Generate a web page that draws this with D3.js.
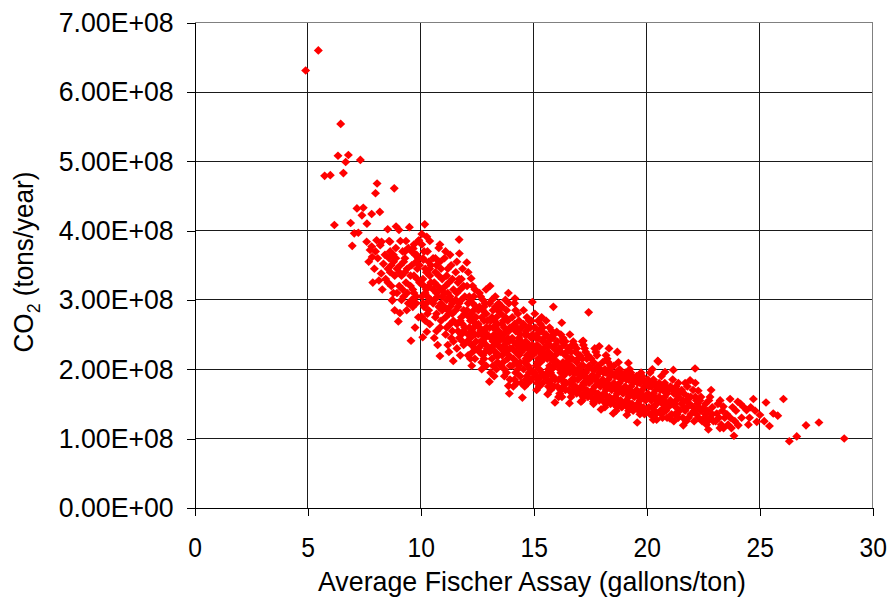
<!DOCTYPE html>
<html>
<head>
<meta charset="utf-8">
<script src="https://cdn.jsdelivr.net/npm/d3@7"></script>
<style>
  html, body { margin: 0; padding: 0; background: #fff; }
  svg { display: block; }
  text { font-family: "Liberation Sans", Arial, sans-serif; fill: #000; }
</style>
</head>
<body>
<svg id="chart" width="888" height="598"></svg>
<script>
// ---------------- DATA ----------------
const xTicks = [0, 5, 10, 15, 20, 25, 30];
const xTickLabels = ["0", "5", "10", "15", "20", "25", "30"];
const yTicks = [0, 1e8, 2e8, 3e8, 4e8, 5e8, 6e8, 7e8];
const yTickLabels = ["0.00E+00", "1.00E+08", "2.00E+08", "3.00E+08", "4.00E+08", "5.00E+08", "6.00E+08", "7.00E+08"];
const xTitle = "Average Fischer Assay (gallons/ton)";
const yUnit = 1e8; // point y values below are in units of 1E+08 tons/year

// [average Fischer assay (gal/ton), CO2 (1E+08 tons/year)]
const ptsOutliers = [[4.91,6.31],[5.47,6.60],[6.46,5.54],[6.34,5.08],[6.80,5.09],[6.68,4.99],[7.33,5.02],[5.75,4.79],[6.00,4.80],[6.58,4.83],[8.07,4.68],[8.00,4.54],[8.83,4.61],[6.18,4.08],[7.18,4.32],[7.46,4.33],[7.40,4.22],[7.83,4.24],[8.19,4.27],[6.90,4.11],[7.62,4.10],[7.06,3.96],[7.24,3.97],[8.54,4.02],[8.91,4.06],[9.04,4.01],[9.50,4.05],[10.18,4.09],[6.97,3.78],[9.92,3.86],[10.27,3.91]];

const pts07to10 = [[7.61,3.84],[7.83,3.77],[8.05,3.86],[8.27,3.84],[8.64,3.84],[7.76,3.72],[8.21,3.79],[8.42,3.65],[8.79,3.65],[9.31,3.70],[9.67,3.74],[9.82,3.65],
[7.88,3.25],[7.7,3.55],[7.95,3.45],[8.1,3.6],[8.25,3.38],[8.35,3.52],[8.45,3.3],[8.0,3.7],[8.55,3.45],[7.85,3.62],[8.3,3.15],[8.15,3.28],
[8.6,3.6],[8.65,3.4],[8.7,3.2],[8.75,3.0],[8.8,3.55],[8.85,3.35],[8.9,3.75],[8.95,3.1],[8.79,3.10],[8.74,2.99],[8.6,3.85],[8.7,3.5],[8.85,2.85],[8.95,3.45],[8.55,3.25],[8.9,3.6],[8.65,3.7],
[9.08,2.81],[9.01,2.69],[9.38,2.85],[9.05,3.2],[9.1,3.5],[9.15,3.35],[9.2,3.7],[9.25,3.05],[9.3,3.6],[9.35,3.25],[9.4,3.45],[9.45,2.95],[9.1,3.85],[9.2,3.15],[9.3,3.4],[9.45,3.75],[9.15,3.0],[9.25,3.55],[9.4,3.1],[9.05,3.4],[9.35,3.85],
[9.57,2.41],[9.55,3.2],[9.6,3.5],[9.65,2.9],[9.7,3.35],[9.75,3.65],[9.8,3.05],[9.85,3.45],[9.9,2.75],[9.95,3.25],[9.6,3.0],[9.7,3.8],[9.8,3.55],[9.9,3.6],[9.55,3.35],[9.65,3.15],[9.75,2.6],[9.85,3.3],[9.95,3.5],[9.6,3.7],[9.8,2.95],[9.9,3.85],[9.7,3.1]];

const pts10to12 = [[10.09,2.46],[10.27,2.54],[10.12,3.58],[10.04,2.76],[10.05,3.05],[10.1,3.3],[10.15,2.9],[10.2,3.45],[10.25,3.15],[10.3,3.7],[10.35,2.85],[10.4,3.35],[10.45,3.0],[10.05,3.8],[10.1,3.6],[10.15,3.2],[10.2,2.7],[10.25,3.4],[10.3,3.05],[10.35,3.55],[10.4,2.65],[10.45,3.25],[10.1,2.95],[10.2,3.1],[10.3,2.8],[10.4,3.45],[10.15,3.7],[10.35,3.2],[10.45,3.5],[10.25,2.95],[10.05,3.95],[10.4,3.85],
[10.85,2.19],[10.55,2.95],[10.6,3.25],[10.65,2.75],[10.7,3.5],[10.75,3.05],[10.8,3.35],[10.85,2.6],[10.9,3.15],[10.95,2.85],[10.55,3.6],[10.6,3.0],[10.65,3.4],[10.7,2.55],[10.75,3.2],[10.8,2.9],[10.85,3.55],[10.9,2.7],[10.95,3.3],[10.6,2.45],[10.7,3.1],[10.8,3.75],[10.9,2.95],[10.55,3.15],[10.65,3.6],[10.75,2.35],[10.85,3.8],[10.95,3.05],[10.7,2.8],[10.9,3.45],
[11.44,2.12],[11.05,2.9],[11.1,3.2],[11.15,2.6],[11.2,3.45],[11.25,2.8],[11.3,3.05],[11.35,2.45],[11.4,3.3],[11.45,2.7],[11.05,3.6],[11.1,2.5],[11.15,3.0],[11.2,2.35],[11.25,3.25],[11.3,2.65],[11.35,3.5],[11.4,2.95],[11.45,3.15],[11.1,2.75],[11.2,3.1],[11.3,2.9],[11.4,2.55],[11.15,3.35],[11.25,2.25],[11.35,3.0],[11.45,2.4],[11.05,3.1],[11.3,3.65],[11.2,2.85],[11.4,2.8],[11.1,3.7],
[11.71,3.67],[11.7,3.87],[11.55,2.85],[11.6,3.1],[11.65,2.55],[11.7,3.3],[11.75,2.7],[11.8,3.0],[11.85,2.4],[11.9,3.2],[11.95,2.6],[11.55,3.4],[11.6,2.3],[11.65,2.9],[11.7,2.45],[11.75,3.15],[11.8,2.75],[11.85,3.45],[11.9,2.85],[11.95,3.05],[11.6,2.65],[11.7,2.95],[11.8,2.5],[11.9,2.35],[11.55,3.0],[11.65,3.25],[11.75,2.2],[11.85,2.65],[11.95,2.8],[11.6,3.55],[11.8,3.3],[11.9,2.55]];

const pts12to14 = [[12.04,3.54],[12.23,3.31],[12.26,2.05],[12.05,2.85],[12.1,2.5],[12.15,3.05],[12.2,2.7],[12.25,2.35],[12.3,2.95],[12.35,2.6],[12.4,3.15],[12.45,2.4],[12.05,3.2],[12.1,2.2],[12.15,2.75],[12.2,3.0],[12.25,2.55],[12.3,2.25],[12.35,2.85],[12.4,2.5],[12.45,2.9],[12.1,2.95],[12.2,2.45],[12.3,2.7],[12.4,2.3],[12.15,2.6],[12.35,3.05],[12.45,2.65],[12.05,2.4],[12.25,2.8],[12.4,2.15],[12.1,3.4],[12.3,3.2],[12.2,2.15],[12.45,2.75],
[12.70,2.00],[12.89,3.15],[12.55,2.65],[12.6,2.9],[12.65,2.4],[12.7,2.75],[12.75,2.2],[12.8,2.55],[12.85,2.95],[12.9,2.35],[12.95,2.7],[12.55,2.3],[12.6,2.6],[12.65,3.05],[12.7,2.5],[12.75,2.85],[12.8,2.15],[12.85,2.45],[12.9,2.8],[12.95,2.5],[12.6,2.25],[12.7,2.35],[12.8,2.7],[12.9,2.6],[12.55,2.85],[12.65,2.55],[12.75,3.0],[12.85,2.25],[12.95,2.3],[12.6,3.1],[12.8,2.9],[12.7,2.1],[12.9,2.05],[12.55,2.5],[12.75,2.4],
[13.04,1.82],[13.07,3.20],[13.05,2.6],[13.1,2.3],[13.15,2.75],[13.2,2.05],[13.25,2.5],[13.3,2.9],[13.35,2.2],[13.4,2.65],[13.45,2.4],[13.05,2.95],[13.1,2.45],[13.15,2.15],[13.2,2.85],[13.25,2.35],[13.3,2.6],[13.35,2.0],[13.4,2.85],[13.45,2.55],[13.1,2.7],[13.2,2.4],[13.3,2.25],[13.4,2.1],[13.15,3.0],[13.25,2.7],[13.35,2.45],[13.45,2.2],[13.05,2.25],[13.2,2.6],[13.3,3.05],[13.4,2.35],[13.1,1.95],[13.35,2.75],[13.45,2.95],[13.25,1.9],
[13.88,3.10],[13.88,1.76],[13.92,1.65],[13.55,2.5],[13.6,2.2],[13.65,2.7],[13.7,2.0],[13.75,2.4],[13.8,2.85],[13.85,2.15],[13.9,2.55],[13.95,2.3],[13.55,2.8],[13.6,2.45],[13.65,2.1],[13.7,2.6],[13.75,2.25],[13.8,1.95],[13.85,2.7],[13.9,2.4],[13.95,2.05],[13.6,2.9],[13.7,2.35],[13.8,2.55],[13.9,2.2],[13.55,2.05],[13.65,2.5],[13.75,2.75],[13.85,2.45],[13.95,2.6],[13.6,2.65],[13.7,1.9],[13.8,2.3],[13.9,2.95],[13.55,2.3],[13.75,3.0],[13.95,1.85]];

const pts14to16 = [[14.17,3.02],[14.50,1.59],[14.05,2.45],[14.1,2.15],[14.15,2.65],[14.2,1.95],[14.25,2.35],[14.3,2.8],[14.35,2.05],[14.4,2.5],[14.45,2.25],[14.05,2.75],[14.1,2.4],[14.15,1.85],[14.2,2.55],[14.25,2.1],[14.3,2.4],[14.35,2.7],[14.4,1.9],[14.45,2.6],[14.1,2.6],[14.2,2.25],[14.3,2.0],[14.4,2.3],[14.15,2.95],[14.25,2.6],[14.35,2.2],[14.45,1.8],[14.05,2.05],[14.2,2.85],[14.3,2.55],[14.4,2.1],[14.1,1.75],[14.35,2.45],[14.45,2.4],[14.25,1.8],[14.05,2.3],
[14.94,2.97],[14.55,2.35],[14.6,2.1],[14.65,2.55],[14.7,1.9],[14.75,2.3],[14.8,2.7],[14.85,2.0],[14.9,2.45],[14.95,2.2],[14.55,2.65],[14.6,2.3],[14.65,1.85],[14.7,2.5],[14.75,2.05],[14.8,2.35],[14.85,2.6],[14.9,1.85],[14.95,2.5],[14.6,2.5],[14.7,2.2],[14.8,1.95],[14.9,2.25],[14.55,2.85],[14.65,2.15],[14.75,2.6],[14.85,2.3],[14.95,1.95],[14.6,1.75],[14.7,2.75],[14.8,2.15],[14.9,2.7],[14.55,2.0],[14.75,1.8],[14.95,2.35],[14.65,2.4],
[15.13,1.70],[15.05,2.3],[15.1,2.05],[15.15,2.5],[15.2,1.85],[15.25,2.25],[15.3,2.65],[15.35,1.95],[15.4,2.4],[15.45,2.15],[15.05,2.6],[15.1,2.25],[15.15,1.8],[15.2,2.45],[15.25,2.0],[15.3,2.3],[15.35,2.55],[15.4,1.8],[15.45,2.45],[15.1,2.45],[15.2,2.15],[15.3,1.9],[15.4,2.2],[15.05,2.8],[15.15,2.1],[15.25,2.55],[15.35,2.25],[15.45,1.9],[15.1,1.9],[15.2,2.7],[15.3,2.1],[15.4,2.6],[15.05,1.95],[15.25,1.75],[15.45,2.3],[15.15,2.35],[15.35,2.75],
[15.62,1.64],[15.94,1.52],[15.87,2.90],[15.55,2.2],[15.6,1.95],[15.65,2.4],[15.7,1.8],[15.75,2.15],[15.8,2.55],[15.85,1.9],[15.9,2.3],[15.95,2.05],[15.55,2.5],[15.6,2.15],[15.65,1.75],[15.7,2.35],[15.75,1.95],[15.8,2.2],[15.85,2.45],[15.9,1.75],[15.95,2.35],[15.6,2.35],[15.7,2.05],[15.8,1.85],[15.9,2.1],[15.55,2.7],[15.65,2.0],[15.75,2.45],[15.85,2.15],[15.95,1.85],[15.6,1.85],[15.7,2.6],[15.8,2.0],[15.9,2.5],[15.55,1.9],[15.75,1.7],[15.95,2.2],[15.65,2.25]];

const pts16to18 = [[16.24,2.67],[16.02,2.54],[16.05,2.1],[16.1,1.85],[16.15,2.3],[16.2,1.7],[16.25,2.05],[16.3,2.45],[16.35,1.8],[16.4,2.2],[16.45,1.95],[16.05,2.4],[16.1,2.05],[16.15,1.65],[16.2,2.25],[16.25,1.85],[16.3,2.1],[16.35,2.35],[16.4,1.7],[16.45,2.25],[16.1,2.25],[16.2,1.95],[16.3,1.75],[16.4,2.0],[16.15,2.0],[16.25,2.4],[16.35,2.05],[16.45,1.8],[16.05,1.75],[16.2,2.5],[16.3,1.9],[16.4,2.4],[16.1,1.6],[16.35,1.95],[16.45,2.1],[16.25,1.6],
[16.58,1.51],[16.55,2.05],[16.6,1.8],[16.65,2.25],[16.7,1.65],[16.75,1.95],[16.8,2.35],[16.85,1.75],[16.9,2.1],[16.95,1.85],[16.55,2.3],[16.6,1.95],[16.65,1.6],[16.7,2.15],[16.75,1.75],[16.8,2.0],[16.85,2.25],[16.9,1.65],[16.95,2.15],[16.6,2.15],[16.7,1.85],[16.8,1.7],[16.9,1.95],[16.55,1.7],[16.65,2.05],[16.75,2.4],[16.85,1.95],[16.95,1.7],[16.6,2.5],[16.8,1.85],[16.9,2.3],[16.7,2.35],[16.95,2.0],
[17.09,1.53],[17.19,2.41],[17.43,2.82],[17.05,1.95],[17.1,1.75],[17.15,2.15],[17.2,1.6],[17.25,1.9],[17.3,2.25],[17.35,1.7],[17.4,2.0],[17.45,1.8],[17.05,2.2],[17.1,1.9],[17.15,1.55],[17.2,2.05],[17.25,1.7],[17.3,1.95],[17.35,2.15],[17.4,1.6],[17.45,2.05],[17.1,2.05],[17.2,1.8],[17.3,1.65],[17.4,1.85],[17.05,1.65],[17.15,1.95],[17.25,2.3],[17.35,1.85],[17.45,1.65],[17.15,2.4],[17.3,1.8],[17.4,2.2],[17.2,2.35],
[17.64,1.53],[17.90,2.33],[17.98,1.42],[17.55,1.9],[17.6,1.7],[17.65,2.1],[17.7,1.55],[17.75,1.85],[17.8,2.2],[17.85,1.65],[17.9,1.95],[17.95,1.75],[17.55,2.15],[17.6,1.85],[17.65,1.5],[17.7,2.0],[17.75,1.65],[17.8,1.9],[17.85,2.05],[17.9,1.55],[17.95,2.0],[17.6,2.0],[17.7,1.75],[17.8,1.6],[17.9,1.8],[17.55,1.6],[17.65,1.9],[17.75,2.25],[17.85,1.8],[17.95,1.6],[17.7,2.3]];

const pts18to20 = [[18.33,2.30],[18.05,1.85],[18.1,1.65],[18.15,2.0],[18.2,1.5],[18.25,1.8],[18.3,2.1],[18.35,1.6],[18.4,1.9],[18.45,1.7],[18.05,2.1],[18.1,1.8],[18.15,1.45],[18.2,1.95],[18.25,1.6],[18.3,1.85],[18.35,2.0],[18.4,1.5],[18.45,1.95],[18.1,1.95],[18.2,1.7],[18.3,1.55],[18.4,1.75],[18.05,1.55],[18.15,1.75],[18.25,2.15],[18.35,1.75],[18.45,1.55],[18.2,2.2],[18.4,2.05],
[18.52,1.36],[18.70,2.25],[18.55,1.8],[18.6,1.6],[18.65,1.95],[18.7,1.45],[18.75,1.75],[18.8,2.0],[18.85,1.55],[18.9,1.85],[18.95,1.65],[18.55,2.05],[18.6,1.75],[18.65,1.4],[18.7,1.9],[18.75,1.55],[18.8,1.8],[18.85,1.95],[18.9,1.45],[18.95,1.9],[18.6,1.9],[18.7,1.65],[18.8,1.5],[18.9,1.7],[18.55,1.5],[18.65,1.7],[18.75,2.1],[18.85,1.7],[18.95,1.5],
[19.12,1.34],[19.19,2.09],[19.05,1.75],[19.1,1.55],[19.15,1.9],[19.2,1.4],[19.25,1.7],[19.3,1.95],[19.35,1.5],[19.4,1.8],[19.45,1.6],[19.05,1.95],[19.1,1.7],[19.15,1.45],[19.2,1.85],[19.25,1.5],[19.3,1.75],[19.35,1.9],[19.4,1.4],[19.45,1.85],[19.1,1.85],[19.2,1.6],[19.3,1.45],[19.4,1.65],[19.15,1.65],[19.25,2.0],[19.35,1.65],[19.45,1.45],[19.05,1.5],
[19.58,1.23],[19.55,1.7],[19.6,1.5],[19.65,1.85],[19.7,1.35],[19.75,1.65],[19.8,1.9],[19.85,1.45],[19.9,1.75],[19.95,1.55],[19.55,1.9],[19.6,1.65],[19.65,1.4],[19.7,1.8],[19.75,1.45],[19.8,1.7],[19.85,1.85],[19.9,1.35],[19.95,1.8],[19.6,1.8],[19.7,1.55],[19.8,1.4],[19.9,1.6],[19.65,1.6],[19.75,1.95],[19.85,1.6],[19.95,1.4],[19.55,1.45]];

const pts20to23 = [[20.44,1.27],[20.49,2.12],[20.29,1.27],[20.05,1.65],[20.1,1.45],[20.15,1.8],[20.2,1.35],[20.25,1.6],[20.3,1.85],[20.35,1.4],[20.4,1.7],[20.45,1.5],[20.05,1.85],[20.1,1.6],[20.15,1.35],[20.2,1.75],[20.25,1.45],[20.3,1.65],[20.35,1.8],[20.4,1.35],[20.45,1.75],[20.1,1.75],[20.2,1.55],[20.3,1.45],[20.4,1.55],[20.15,1.95],[20.35,1.6],[20.25,2.0],
[20.51,2.11],[20.81,1.96],[21.03,1.29],[20.55,1.6],[20.6,1.4],[20.65,1.75],[20.7,1.3],[20.75,1.55],[20.8,1.8],[20.85,1.4],[20.9,1.65],[20.95,1.45],[20.55,1.8],[20.6,1.55],[20.65,1.35],[20.7,1.7],[20.75,1.4],[20.8,1.6],[20.85,1.75],[20.9,1.3],[20.95,1.7],[20.6,1.7],[20.7,1.5],[20.8,1.45],[20.9,1.5],[20.65,1.9],
[21.18,1.99],[21.05,1.55],[21.1,1.35],[21.15,1.7],[21.2,1.25],[21.25,1.5],[21.3,1.75],[21.35,1.35],[21.4,1.6],[21.45,1.4],[21.05,1.75],[21.1,1.5],[21.2,1.65],[21.25,1.35],[21.3,1.55],[21.35,1.7],[21.4,1.3],[21.45,1.65],[21.15,1.85],[21.3,1.45],[21.4,1.8],
[21.62,1.19],[21.92,1.84],[21.55,1.5],[21.6,1.3],[21.65,1.65],[21.7,1.4],[21.75,1.55],[21.8,1.75],[21.85,1.3],[21.9,1.5],[21.95,1.35],[21.55,1.7],[21.65,1.45],[21.75,1.25],[21.85,1.6],[21.95,1.6],[21.7,1.8],[21.6,1.55],[21.8,1.45],
[22.14,2.01],[22.28,1.69],[22.50,1.44],[22.05,1.45],[22.1,1.25],[22.15,1.6],[22.2,1.35],[22.25,1.5],[22.3,1.3],[22.35,1.55],[22.4,1.4],[22.45,1.25],[22.05,1.7],[22.2,1.55],[22.3,1.45],[22.4,1.6],[22.15,1.8],[22.1,1.4],
[22.85,1.70],[22.73,1.13],[22.55,1.3],[22.6,1.5],[22.65,1.2],[22.7,1.4],[22.75,1.55],[22.8,1.3],[22.9,1.45],[22.95,1.25],[22.6,1.35],[22.8,1.6],[22.7,1.25],[22.9,1.35]];

const pts23up = [[23.10,1.36],[23.24,1.15],[23.39,1.46],[23.05,1.25],[23.15,1.5],[23.2,1.3],[23.3,1.2],[23.35,1.4],[23.45,1.3],[23.25,1.55],[23.4,1.15],
[23.69,1.57],[23.86,1.04],[24.03,1.53],[24.05,1.19],[23.55,1.35],[23.6,1.2],[23.7,1.3],[23.8,1.45],[23.9,1.25],[23.95,1.4],[23.75,1.15],
[24.42,1.41],[24.72,1.57],[24.87,1.24],[24.2,1.3],[24.3,1.45],[24.55,1.3],[24.6,1.45],[24.15,1.5],[24.8,1.4],[24.5,1.2],
[25.01,1.34],[25.28,1.52],[25.43,1.18],[25.60,1.36],[25.80,1.33],[26.05,1.57],[26.31,0.96],[26.64,1.03],[27.05,1.19],[27.62,1.23],[28.74,1.00],[25.2,1.25]];

// ---------------- CHART ----------------
const points = [].concat(ptsOutliers, pts07to10, pts10to12, pts12to14, pts14to16, pts16to18, pts18to20, pts20to23, pts23up);

const svg = d3.select("#chart");
const pLeft = 194.7, pRight = 872.7, pTop = 22.7, pBottom = 507.8;

const x = d3.scaleLinear().domain([0, 30]).range([pLeft, pRight]);
const y = d3.scaleLinear().domain([0, 7e8]).range([pBottom, pTop]);

const FONT = 28;

function fitText(sel, factor, target) {
  sel.each(function() {
    const n = this.getComputedTextLength();
    const w = target != null ? target : n * factor;
    d3.select(this).attr("textLength", w).attr("lengthAdjust", "spacingAndGlyphs");
  });
}

// gridlines
const grid = svg.append("g").attr("shape-rendering", "crispEdges");
grid.selectAll("line.h").data(yTicks.filter(d => d > 0 && d < 7e8)).join("line")
  .attr("x1", pLeft).attr("x2", pRight)
  .attr("y1", d => y(d)).attr("y2", d => y(d))
  .attr("stroke", "#1a1a1a").attr("stroke-width", 1);
grid.selectAll("line.v").data(xTicks.filter(d => d > 0 && d < 30)).join("line")
  .attr("y1", pTop).attr("y2", pBottom)
  .attr("x1", d => x(d)).attr("x2", d => x(d))
  .attr("stroke", "#1a1a1a").attr("stroke-width", 1);
// plot border (top/right)
grid.append("line").attr("x1", pLeft).attr("x2", pRight).attr("y1", pTop).attr("y2", pTop).attr("stroke", "#808080");
grid.append("line").attr("x1", pRight).attr("x2", pRight).attr("y1", pTop).attr("y2", pBottom).attr("stroke", "#808080");

// points
const diamond = "M0,-4.3L4.5,0L0,4.3L-4.5,0Z";
svg.append("g").selectAll("path").data(points).join("path")
  .attr("d", diamond)
  .attr("transform", d => `translate(${x(d[0])},${y(d[1] * yUnit)})`)
  .attr("fill", "#ff0000");

// axes
const yAxis = d3.axisLeft(y).tickValues(yTicks).tickFormat((d, i) => yTickLabels[i]).tickSize(8).tickPadding(13);
const gy = svg.append("g").attr("transform", `translate(${pLeft},0)`).call(yAxis);
gy.selectAll("path.domain").attr("stroke", "#000").attr("shape-rendering", "crispEdges");
gy.selectAll(".tick line").attr("stroke", "#000").attr("shape-rendering", "crispEdges");
gy.selectAll(".tick text").attr("font-size", FONT).attr("font-family", "Liberation Sans, Arial, sans-serif").attr("fill", "#000").call(fitText, null, 115);

const xAxis = d3.axisBottom(x).tickValues(xTicks).tickFormat((d, i) => xTickLabels[i]).tickSize(8).tickPadding(21);
const gx = svg.append("g").attr("transform", `translate(0,${pBottom})`).call(xAxis);
gx.selectAll("path.domain").attr("stroke", "#000").attr("shape-rendering", "crispEdges");
gx.selectAll(".tick line").attr("stroke", "#000").attr("shape-rendering", "crispEdges");
gx.selectAll(".tick text").attr("font-size", FONT).attr("font-family", "Liberation Sans, Arial, sans-serif").attr("fill", "#000").call(fitText, 0.88);

// x title
svg.append("text").attr("x", 532).attr("y", 591).attr("text-anchor", "middle")
  .attr("font-size", FONT).text(xTitle).call(fitText, null, 428);

// y title with subscript
const yt = svg.append("text").attr("transform", "translate(33,262) rotate(-90)")
  .attr("text-anchor", "middle").attr("font-size", FONT);
yt.append("tspan").text("CO");
yt.append("tspan").attr("font-size", 19).attr("dy", 7).text("2");
yt.append("tspan").attr("dy", -7).text(" (tons/year)");
yt.call(fitText, null, 181);
</script>
</body>
</html>
